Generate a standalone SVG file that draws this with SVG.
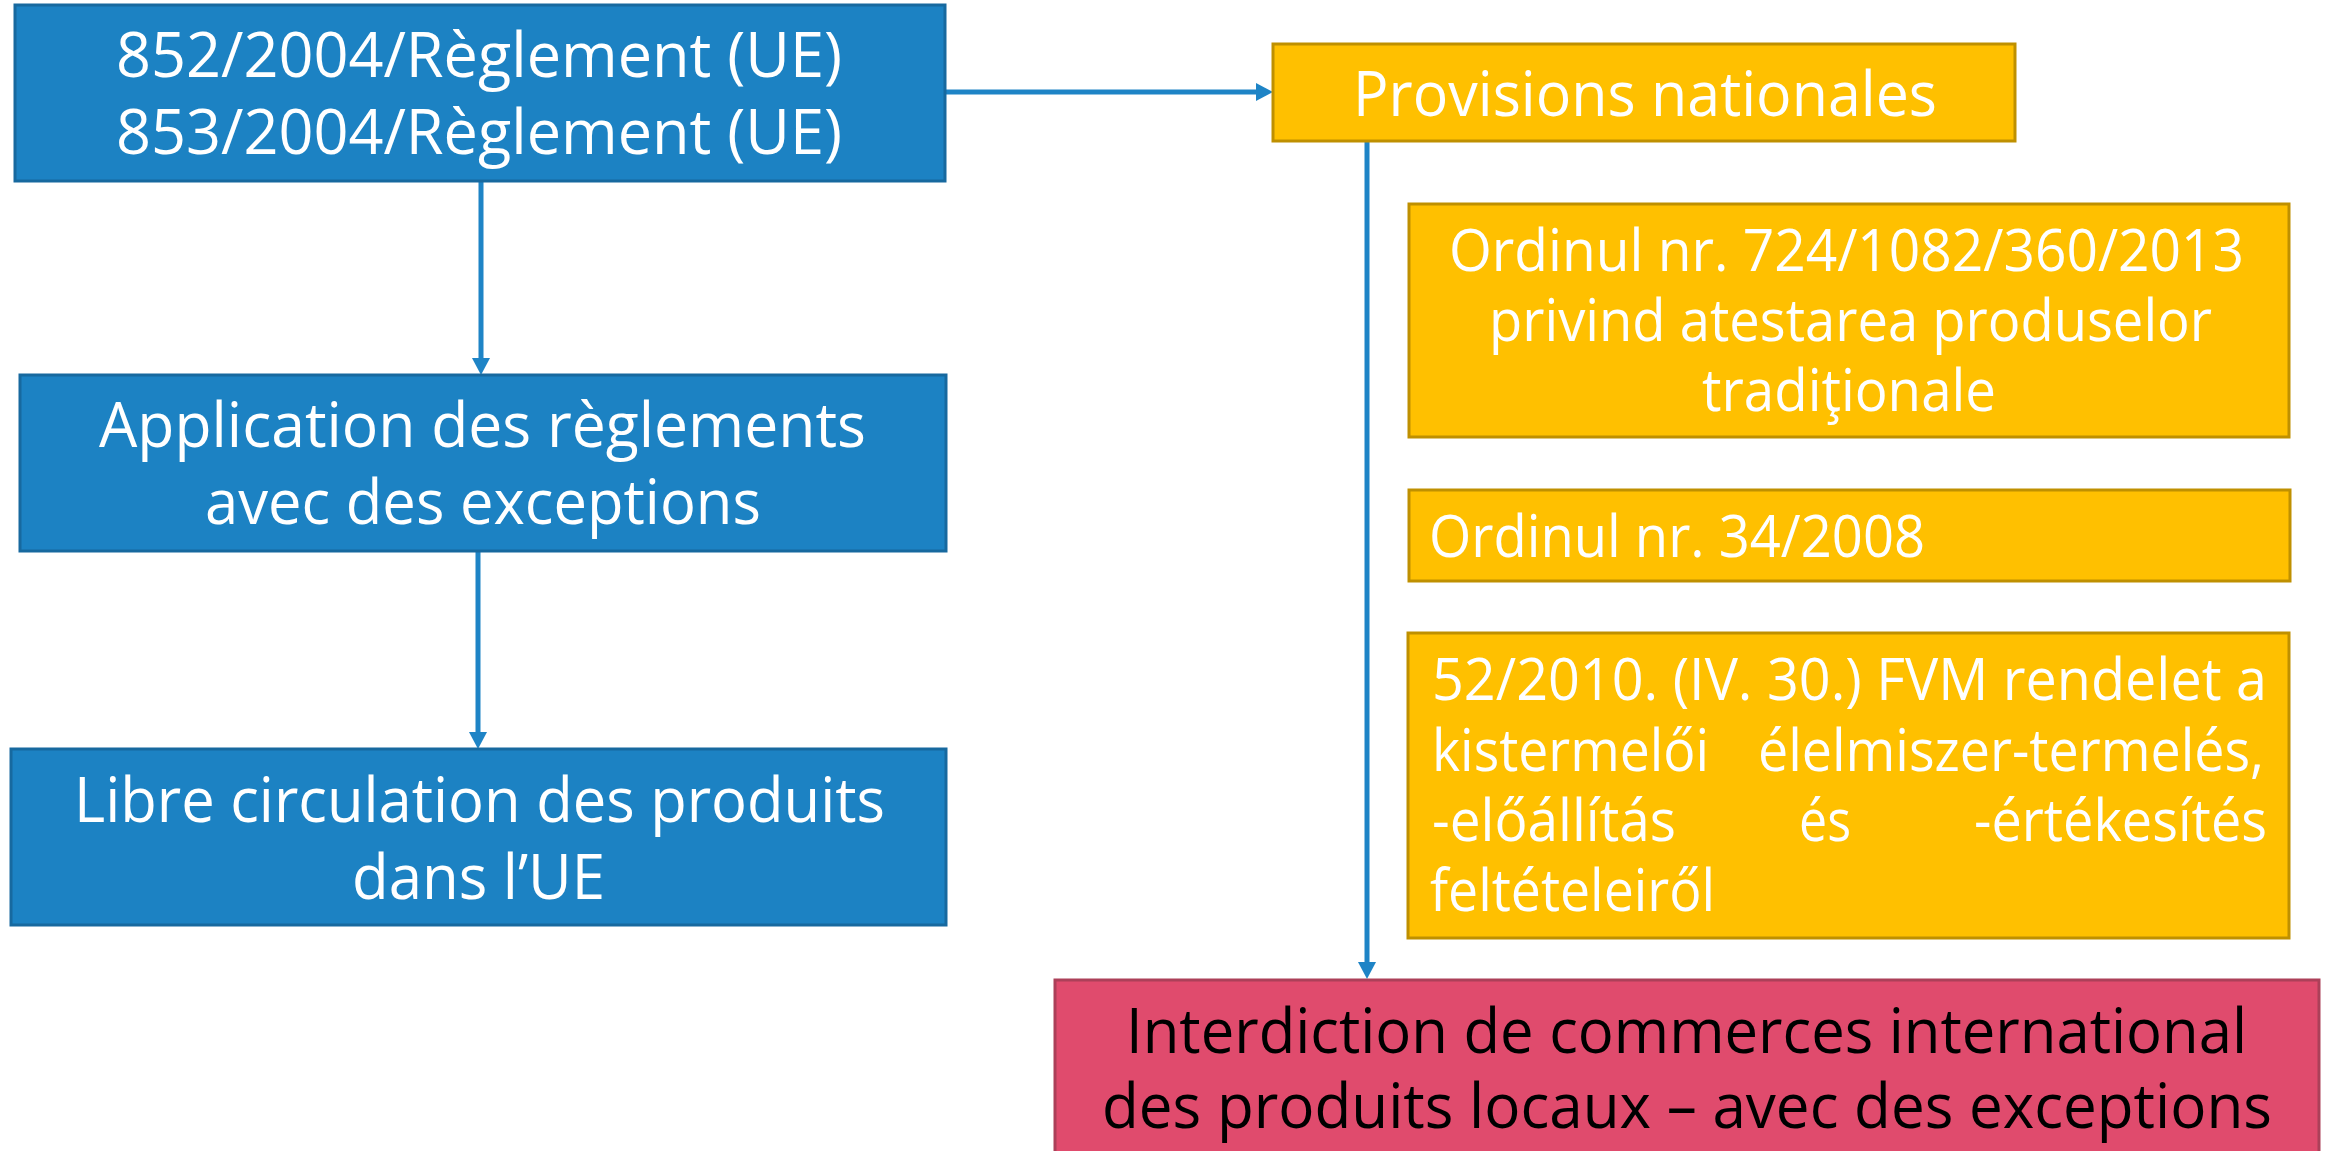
<svg xmlns="http://www.w3.org/2000/svg" width="2328" height="1151" viewBox="0 0 2328 1151">
<style>
.blue{fill:#1C82C3;stroke:#17699F;stroke-width:3}
.orange{fill:#FFC000;stroke:#BF9000;stroke-width:3}
.red{fill:#E04B6D;stroke:#AC4059;stroke-width:3}
.t{font-family:"Open Sans","Noto Sans","DejaVu Sans",sans-serif;fill:#FFFFFF}
.big{font-size:63px}
.mid{font-size:59px}
.dark{fill:#000000}
.conn{stroke:#1E84C6;stroke-width:5;fill:none}
</style>
<defs>
<marker id="arr" viewBox="0 0 17 18" refX="1" refY="9" markerWidth="17" markerHeight="18" markerUnits="userSpaceOnUse" orient="auto">
<path d="M0,0 L17,9 L0,18 z" fill="#1E84C6"/>
</marker>
</defs>
<g id="connectors">
<line class="conn" x1="945" y1="92" x2="1257" y2="92" marker-end="url(#arr)"/>
<line class="conn" x1="481" y1="181" x2="481" y2="359" marker-end="url(#arr)"/>
<line class="conn" x1="478" y1="551" x2="478" y2="733" marker-end="url(#arr)"/>
<line class="conn" x1="1367" y1="141" x2="1367" y2="963" marker-end="url(#arr)"/>
</g>
<g id="node-reglement">
<rect class="blue" x="15" y="5" width="930" height="176"/>
<text class="t big" x="116" y="77" textLength="726" lengthAdjust="spacingAndGlyphs">852/2004/Règlement (UE)</text>
<text class="t big" x="116" y="154" textLength="726" lengthAdjust="spacingAndGlyphs">853/2004/Règlement (UE)</text>
</g>
<g id="node-application">
<rect class="blue" x="20" y="375" width="926" height="176"/>
<text class="t big" x="99" y="447" textLength="767" lengthAdjust="spacingAndGlyphs">Application des règlements</text>
<text class="t big" x="205" y="524" textLength="556" lengthAdjust="spacingAndGlyphs">avec des exceptions</text>
</g>
<g id="node-libre">
<rect class="blue" x="11" y="749" width="935" height="176"/>
<text class="t big" x="74" y="822" textLength="811" lengthAdjust="spacingAndGlyphs">Libre circulation des produits</text>
<text class="t big" x="352" y="899" textLength="253" lengthAdjust="spacingAndGlyphs">dans l’UE</text>
</g>
<g id="node-provisions">
<rect class="orange" x="1273" y="44" width="742" height="97"/>
<text class="t big" x="1353" y="116" textLength="584" lengthAdjust="spacingAndGlyphs">Provisions nationales</text>
</g>
<g id="node-ordinul-724">
<rect class="orange" x="1409" y="204" width="880" height="233"/>
<text class="t mid" x="1449" y="271" textLength="795" lengthAdjust="spacingAndGlyphs">Ordinul nr. 724/1082/360/2013</text>
<text class="t mid" x="1489" y="341" textLength="723" lengthAdjust="spacingAndGlyphs">privind atestarea produselor</text>
<text class="t mid" x="1702" y="411" textLength="294" lengthAdjust="spacingAndGlyphs">tradiţionale</text>
</g>
<g id="node-ordinul-34">
<rect class="orange" x="1409" y="490" width="881" height="91"/>
<text class="t mid" x="1429" y="557" textLength="496" lengthAdjust="spacingAndGlyphs">Ordinul nr. 34/2008</text>
</g>
<g id="node-rendelet">
<rect class="orange" x="1408" y="633" width="881" height="305"/>
<text class="t mid" x="1432" y="700" textLength="835" lengthAdjust="spacingAndGlyphs">52/2010. (IV. 30.) FVM rendelet a</text>
<text class="t mid" x="1432" y="771" textLength="277" lengthAdjust="spacingAndGlyphs">kistermelői</text>
<text class="t mid" x="1758" y="771" textLength="506" lengthAdjust="spacingAndGlyphs">élelmiszer-termelés,</text>
<text class="t mid" x="1432" y="841" textLength="244" lengthAdjust="spacingAndGlyphs">-előállítás</text>
<text class="t mid" x="1799" y="841" textLength="52" lengthAdjust="spacingAndGlyphs">és</text>
<text class="t mid" x="1974" y="841" textLength="293" lengthAdjust="spacingAndGlyphs">-értékesítés</text>
<text class="t mid" x="1430" y="911" textLength="285" lengthAdjust="spacingAndGlyphs">feltételeiről</text>
</g>
<g id="node-interdiction">
<rect class="red" x="1055" y="980" width="1264" height="200"/>
<text class="t big dark" x="1126" y="1053" textLength="1121" lengthAdjust="spacingAndGlyphs">Interdiction de commerces international</text>
<text class="t big dark" x="1102" y="1128" textLength="1170" lengthAdjust="spacingAndGlyphs">des produits locaux – avec des exceptions</text>
</g>
</svg>
